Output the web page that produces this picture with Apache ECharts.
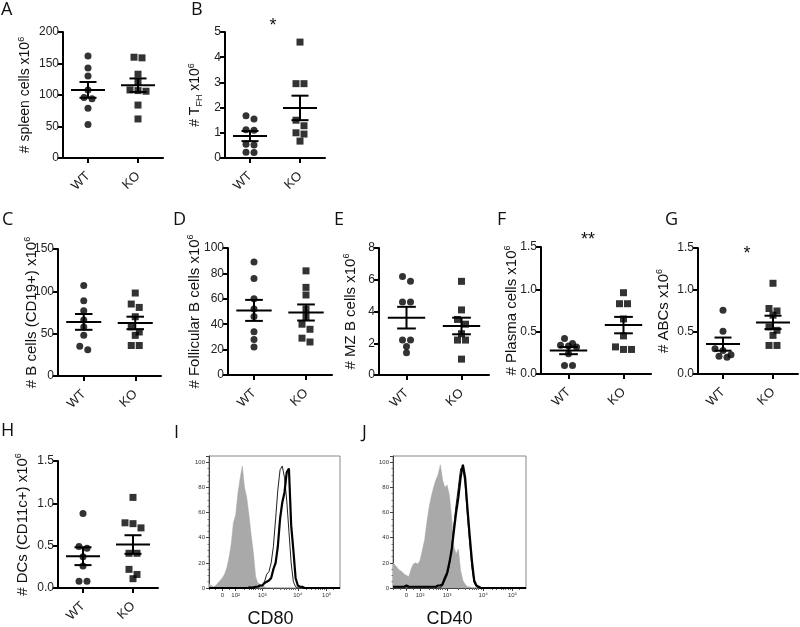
<!DOCTYPE html>
<html><head><meta charset="utf-8">
<script src="https://cdn.jsdelivr.net/npm/echarts@6/dist/echarts.min.js"></script>
<style>html,body{margin:0;padding:0;background:#fff}#c{width:800px;height:627px}</style>
</head><body><div id="c"></div>
<script>
// ---------------- DATA ----------------
const CATEGORIES = ['WT', 'KO'];

const A_WT = [162, 143, 130, 108, 96, 94, 79, 53];
const A_KO = [160, 159, 133, 121, 108, 107, 106, 84, 62];
const A_TICKS = [0, 50, 100, 150, 200];

const B_WT = [1.68, 1.55, 1.12, 1.10, 0.55, 0.52, 0.23, 0.22];
const B_KO = [4.6, 2.95, 2.95, 1.5, 1.28, 1.0, 0.95, 0.67];
const B_TICKS = [0, 1, 2, 3, 4, 5];

const C_WT = [107, 89, 77, 66, 58, 48, 35, 31];
const C_KO = [98, 85, 81, 70, 58, 52, 48, 36, 36];
const C_TICKS = [0, 50, 100, 150];

const D_WT = [89, 76, 60, 52, 46, 34, 28, 22];
const D_KO = [82, 69, 63, 52, 46, 40, 36, 29, 26];
const D_TICKS = [0, 20, 40, 60, 80, 100];

const E_WT = [6.2, 5.9, 4.6, 4.6, 2.2, 2.2, 1.8, 1.4];
const E_KO = [5.9, 4.1, 3.5, 3.2, 2.6, 2.2, 2.2, 1.0];
const E_TICKS = [0, 2, 4, 6, 8];

const F_WT = [0.42, 0.36, 0.34, 0.33, 0.32, 0.24, 0.10, 0.10];
const F_KO = [0.96, 0.83, 0.83, 0.65, 0.45, 0.32, 0.29, 0.29];
const F_TICKS = [0, 0.5, 1.0, 1.5];

const G_WT = [0.76, 0.51, 0.30, 0.28, 0.23, 0.20, 0.21];
const G_KO = [1.08, 0.78, 0.75, 0.70, 0.56, 0.52, 0.46, 0.34, 0.34];
const G_TICKS = [0, 0.5, 1.0, 1.5];

const H_WT = [0.88, 0.49, 0.47, 0.37, 0.26, 0.08, 0.08];
const H_KO = [1.07, 0.77, 0.76, 0.71, 0.41, 0.41, 0.22, 0.16, 0.11];
const H_TICKS = [0, 0.5, 1.0, 1.5];

// flow histograms: 60 bins across the biexponential axis, % of max
const HIST_TICK_LABELS = ['0', '10²', '10³', '10⁴', '10⁵'];
const HIST_TICK_BINS = [6, 12, 24, 40, 53];
const HIST_MINOR_BINS = [0, 3, 9, 16, 18, 19, 20, 21, 22, 23, 29, 32, 34, 35, 36, 37, 38, 39, 44, 46, 48, 49, 50, 51, 52, 56];
const HIST_Y_TICKS = [0, 20, 40, 60, 80, 100];

const I_GRAY  = [3,2,1,2,4,6,8,11,16,24,35,52,58,75,87,97,80,72,58,42,28,9,4,3,2,1,0,0,0,0,0,0,0,0,0,0,0,0,0,0,0,0,0,0,0,0,0,0,0,0,0,0,0,0,0,0,0,0,0,0];
const I_THIN  = [0,0,0,0,0,0,0,0,0,0,0,0,0,0,0,0,0,0,1,1,1,1,1,2,2,5,11,13,20,33,55,78,94,97,88,70,45,20,5,1,0,0,0,0,0,0,0,0,0,0,0,0,0,0,0,0,0,0,0,0];
const I_THICK = [0,0,0,0,0,0,0,0,0,0,0,0,0,0,0,0,0,0,0,0,0,1,1,2,2,4,5,6,8,15,20,33,55,68,76,92,95,50,30,8,2,1,1,0,0,0,0,0,0,0,0,0,0,0,0,0,0,0,0,0];

const J_GRAY  = [20,18,16,14,13,11,10,9,15,19,20,19,22,30,38,52,64,73,80,86,90,98,86,80,82,74,56,33,27,31,14,6,3,1,1,0,0,0,0,0,0,0,0,0,0,0,0,0,0,0,0,0,0,0,0,0,0,0,0,0];
const J_THIN  = [0,0,0,0,0,0,0,0,0,0,0,0,0,0,0,0,0,0,0,0,0,0,2,6,10,18,32,50,66,80,95,96,82,58,36,16,4,1,0,0,0,0,0,0,0,0,0,0,0,0,0,0,0,0,0,0,0,0,0,0];
const J_THICK = [1,1,1,1,1,1,2,1,1,1,1,1,1,1,1,1,1,1,1,1,2,2,3,8,12,20,30,45,60,72,88,98,88,64,42,22,6,2,1,0,0,0,0,0,0,0,0,0,0,0,0,0,0,0,0,0,0,0,0,0];

// ---------------- LAYOUT / STYLE ----------------
const FONT = 'Liberation Sans, Arial, sans-serif';
const LAYOUT = {
  A: {left: 63, top: 32, width: 100, height: 126},
  B: {left: 225, top: 32, width: 100, height: 126},
  C: {left: 58, top: 249, width: 103, height: 127},
  D: {left: 228, top: 248, width: 104, height: 127},
  E: {left: 379, top: 248, width: 110, height: 127},
  F: {left: 541, top: 247, width: 110, height: 127},
  G: {left: 698, top: 248, width: 100, height: 126},
  H: {left: 58, top: 461, width: 100, height: 127},
  I: {left: 209, top: 456, width: 131, height: 132},
  J: {left: 393, top: 456, width: 133, height: 132}
};

const SCATTER_PANELS = [
  {key: 'A', wt: A_WT, ko: A_KO, ticks: A_TICKS, dec: 0, gap: 29, fs: 14, name: '# spleen cells x10{sup|6}'},
  {key: 'B', wt: B_WT, ko: B_KO, ticks: B_TICKS, dec: 0, gap: 21, fs: 14, name: '# T{sub|FH} x10{sup|6}'},
  {key: 'C', wt: C_WT, ko: C_KO, ticks: C_TICKS, dec: 0, gap: 17, fs: 15, name: '# B cells (CD19+) x10{sup|6}'},
  {key: 'D', wt: D_WT, ko: D_KO, ticks: D_TICKS, dec: 0, gap: 24, fs: 15, name: '# Follicular B cells x10{sup|6}'},
  {key: 'E', wt: E_WT, ko: E_KO, ticks: E_TICKS, dec: 0, gap: 19, fs: 15, name: '# MZ B cells x10{sup|6}'},
  {key: 'F', wt: F_WT, ko: F_KO, ticks: F_TICKS, dec: 1, gap: 20, fs: 15, name: '# Plasma cells x10{sup|6}'},
  {key: 'G', wt: G_WT, ko: G_KO, ticks: G_TICKS, dec: 1, gap: 25, fs: 15, name: '# ABCs x10{sup|6}'},
  {key: 'H', wt: H_WT, ko: H_KO, ticks: H_TICKS, dec: 1, gap: 26, fs: 15, name: '# DCs (CD11c+) x10{sup|6}'}
];

const HIST_PANELS = [
  {key: 'I', gray: I_GRAY, thin: I_THIN, thick: I_THICK, title: 'CD80', pad: 8},
  {key: 'J', gray: J_GRAY, thin: J_THIN, thick: J_THICK, title: 'CD40', pad: 20}
];

function richFor(fs) {
  const s = Math.round(fs * 0.62);
  return {
    sup: {fontSize: s, fontFamily: FONT, color: '#111', verticalAlign: 'top', lineHeight: s},
    sub: {fontSize: s, fontFamily: FONT, color: '#111', verticalAlign: 'bottom', lineHeight: s}
  };
}

function mean(a) { return a.reduce((s, v) => s + v, 0) / a.length; }
function sem(a) {
  const m = mean(a);
  const sd = Math.sqrt(a.reduce((s, v) => s + (v - m) * (v - m), 0) / (a.length - 1));
  return sd / Math.sqrt(a.length);
}
// simple column-scatter layout: points that would overlap are spread sideways
function swarm(vals, cx, yMax, plotH, plotW) {
  const pxY = plotH / yMax;
  const stepX = 8 / (plotW / 2);
  const sorted = vals.slice().sort((a, b) => b - a);
  const rows = [];
  sorted.forEach(v => {
    const row = rows[rows.length - 1];
    if (row && (row[0] - v) * pxY < 6) row.push(v); else rows.push([v]);
  });
  const out = [];
  rows.forEach(row => row.forEach((v, j) => out.push([cx + (j - (row.length - 1) / 2) * stepX, v])));
  return out;
}

function meanSemRender(params, api) {
  const x = api.value(0), m = api.value(1), s = api.value(2);
  const c = api.coord([x, m]);
  const hi = api.coord([x, m + s]);
  const lo = api.coord([x, m - s]);
  const u = api.size([1, 0])[0];
  const mw = u * 0.34, sw = u * 0.17;
  const st = {stroke: '#000', lineWidth: 2};
  return {type: 'group', children: [
    {type: 'line', shape: {x1: c[0] - mw, y1: c[1], x2: c[0] + mw, y2: c[1]}, style: st},
    {type: 'line', shape: {x1: c[0], y1: hi[1], x2: c[0], y2: lo[1]}, style: st},
    {type: 'line', shape: {x1: c[0] - sw, y1: hi[1], x2: c[0] + sw, y2: hi[1]}, style: st},
    {type: 'line', shape: {x1: c[0] - sw, y1: lo[1], x2: c[0] + sw, y2: lo[1]}, style: st}
  ]};
}

const grid = [], xAxis = [], yAxis = [], series = [];

SCATTER_PANELS.forEach(p => {
  const L = LAYOUT[p.key];
  const gi = grid.length;
  grid.push(Object.assign({outerBoundsMode: 'none', containLabel: false}, L));
  xAxis.push({
    type: 'category', gridIndex: gi, data: CATEGORIES, boundaryGap: true,
    axisLine: {show: true, onZero: false, lineStyle: {color: '#000', width: 2}},
    axisTick: {show: true, alignWithLabel: true, length: 5, lineStyle: {color: '#000', width: 2}},
    axisLabel: {rotate: 45, interval: 0, fontSize: 13, color: '#222', fontFamily: FONT, margin: 16},
    splitLine: {show: false}
  });
  const xv = xAxis.length;
  xAxis.push({type: 'value', gridIndex: gi, min: -0.5, max: 1.5, show: false,
    axisLine: {onZero: false}});
  const yi = yAxis.length;
  const t = p.ticks;
  yAxis.push({
    type: 'value', gridIndex: gi, min: t[0], max: t[t.length - 1], interval: t[1] - t[0],
    axisLine: {show: true, onZero: false, lineStyle: {color: '#000', width: 2}},
    axisTick: {show: true, length: 5, lineStyle: {color: '#000', width: 2}},
    axisLabel: {fontSize: 12, color: '#222', fontFamily: FONT, margin: 4,
      formatter: v => v.toFixed(p.dec)},
    splitLine: {show: false},
    name: p.name, nameLocation: 'middle', nameGap: p.gap, nameMoveOverlap: false,
    nameTextStyle: {fontSize: p.fs, fontFamily: FONT, color: '#111', lineHeight: p.fs + 3, rich: richFor(p.fs)}
  });
  const yMax = t[t.length - 1];
  series.push({
    type: 'scatter', xAxisIndex: xv, yAxisIndex: yi, symbol: 'circle', symbolSize: 7,
    itemStyle: {color: '#000'}, data: swarm(p.wt, 0, yMax, L.height, L.width)
  });
  series.push({
    type: 'scatter', xAxisIndex: xv, yAxisIndex: yi, symbol: 'rect', symbolSize: 7,
    itemStyle: {color: '#000'}, data: swarm(p.ko, 1, yMax, L.height, L.width)
  });
  series.push({
    type: 'custom', xAxisIndex: xv, yAxisIndex: yi, renderItem: meanSemRender, z: 3,
    data: [[0, mean(p.wt), sem(p.wt)], [1, mean(p.ko), sem(p.ko)]]
  });
});

const BIN_CATS = I_GRAY.map((_, i) => String(i));
HIST_PANELS.forEach(h => {
  const gi = grid.length;
  grid.push(Object.assign({outerBoundsMode: 'none', containLabel: false, show: true,
    borderColor: '#888', borderWidth: 1, backgroundColor: 'transparent'}, LAYOUT[h.key]));
  const xi = xAxis.length;
  xAxis.push({
    type: 'category', gridIndex: gi, data: BIN_CATS, boundaryGap: false,
    axisLine: {show: true, onZero: false, lineStyle: {color: '#444', width: 1}},
    axisTick: {show: true, length: 3, interval: i => HIST_TICK_BINS.includes(i), lineStyle: {color: '#444'}},
    axisLabel: {interval: i => HIST_TICK_BINS.includes(i), fontSize: 6, color: '#333', fontFamily: FONT, margin: 4,
      formatter: (v, i) => HIST_TICK_LABELS[HIST_TICK_BINS.indexOf(i)] || ''},
    splitLine: {show: false},
    name: h.title, nameLocation: 'middle', nameGap: 22,
    nameTextStyle: {fontSize: 18, fontFamily: FONT, color: '#111', padding: [0, h.pad, 0, 0]}
  });
  xAxis.push({
    type: 'category', gridIndex: gi, data: BIN_CATS, boundaryGap: false, position: 'bottom',
    axisLine: {show: false, onZero: false}, axisLabel: {show: false}, splitLine: {show: false},
    axisTick: {show: true, length: 2, interval: i => HIST_MINOR_BINS.includes(i), lineStyle: {color: '#666'}}
  });
  const yi = yAxis.length;
  yAxis.push({
    type: 'value', gridIndex: gi, min: 0, max: 105, interval: HIST_Y_TICKS[1] - HIST_Y_TICKS[0],
    axisLine: {show: true, onZero: false, lineStyle: {color: '#444', width: 1}},
    axisTick: {show: true, length: 3, lineStyle: {color: '#444'}},
    minorTick: {show: true, splitNumber: 4, length: 1.5, lineStyle: {color: '#777'}},
    axisLabel: {fontSize: 6, color: '#333', fontFamily: FONT, margin: 4, showMaxLabel: false,
      formatter: v => HIST_Y_TICKS.includes(v) ? String(v) : ''},
    splitLine: {show: false}
  });
  series.push({type: 'line', xAxisIndex: xi, yAxisIndex: yi, data: h.gray, symbol: 'none',
    lineStyle: {width: 0.5, color: '#a9a9a9'}, areaStyle: {color: '#a9a9a9', opacity: 1}, z: 1});
  series.push({type: 'line', xAxisIndex: xi, yAxisIndex: yi, data: h.thin, symbol: 'none',
    lineStyle: {width: 1, color: '#222'}, z: 2});
  series.push({type: 'line', xAxisIndex: xi, yAxisIndex: yi, data: h.thick, symbol: 'none',
    lineStyle: {width: 2.2, color: '#000'}, z: 3});
});

const LETTERS = [
  ['A', 1, 1], ['B', 191, 1], ['C', 2, 211], ['D', 173, 211], ['E', 334, 211],
  ['F', 497, 211], ['G', 665, 211], ['H', 1, 422], ['I', 174, 424], ['J', 362, 424]
];
const graphic = LETTERS.map(l => ({
  type: 'text', x: l[1], y: l[2],
  style: {text: l[0], fontSize: 18, fontFamily: 'Open Sans, sans-serif', fill: '#111', verticalAlign: 'top'}
}));
[['*', 273, 17], ['**', 588, 231], ['*', 747, 245]].forEach(s => graphic.push({
  type: 'text', x: s[1], y: s[2],
  style: {text: s[0], fontSize: 18, fontFamily: FONT, fill: '#111', align: 'center', verticalAlign: 'top'}
}));

const chart = echarts.init(document.getElementById('c'));
chart.setOption({
  backgroundColor: '#fff', animation: false,
  grid, xAxis, yAxis, series, graphic
});
</script>
</body></html>
